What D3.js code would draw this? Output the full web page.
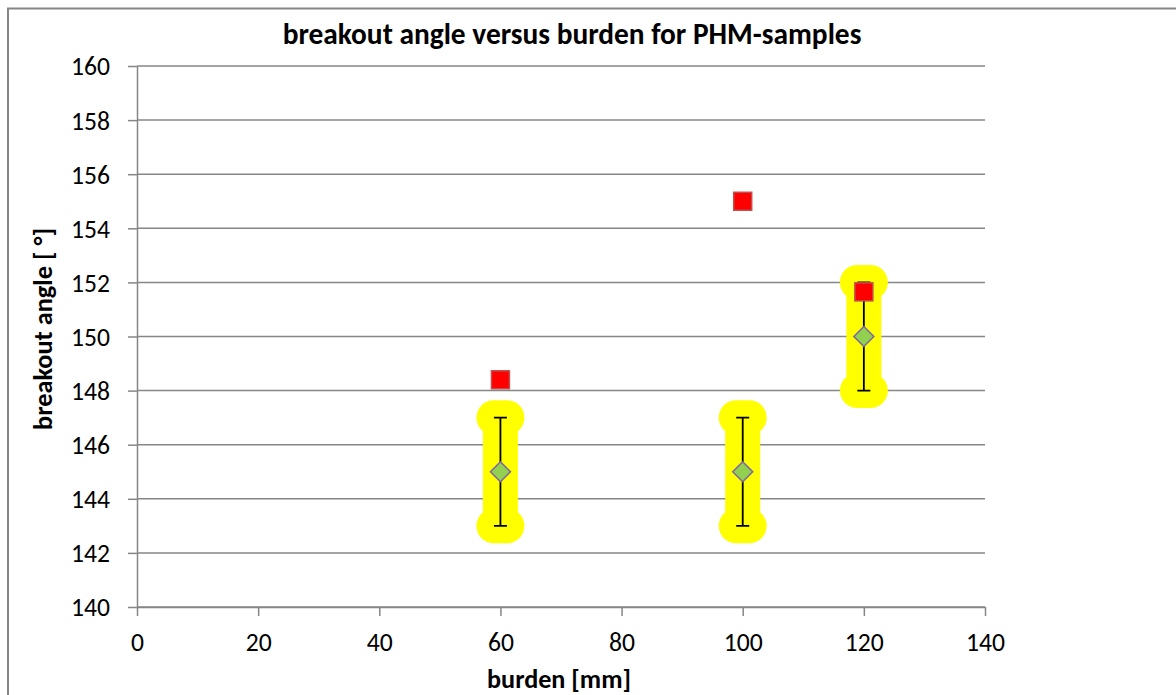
<!DOCTYPE html>
<html>
<head>
<meta charset="utf-8">
<script src="https://cdn.jsdelivr.net/npm/d3@7"></script>
<style>
  body { margin: 0; background: #fff; }
  text { font-family: Carlito, Lato, "Open Sans", sans-serif; fill: #000; }
</style>
</head>
<body>
<svg id="chart" width="1176" height="695"></svg>
<script>
// ---- data ----
const burden = [60, 100, 120];
const measuredAngle = [148.4, 155.0, 151.65];
const meanAngle = [145, 145, 150];
const errPlus = [2, 2, 2];
const errMinus = [2, 2, 2];
const xTicks = [0, 20, 40, 60, 80, 100, 120, 140];
const yTicks = [140, 142, 144, 146, 148, 150, 152, 154, 156, 158, 160];
const titleText = "breakout angle versus burden for PHM-samples";
const xLabel = "burden [mm]";
const yLabel = "breakout angle [ °]";

const svg = d3.select("#chart");
const m = { left: 137, right: 985, top: 66, bottom: 607 };

// fit a text element's font size to a target width
function fitWidth(sel, target) {
  const node = sel.node();
  const base = parseFloat(sel.style("font-size"));
  const w = node.getComputedTextLength();
  sel.style("font-size", (base * target / w) + "px");
}

// outer chart border
svg.append("rect").attr("x", 8).attr("y", 8.5).attr("width", 1200).attr("height", 720)
  .attr("fill", "none").attr("stroke", "#868686").attr("stroke-width", 2);

const x = d3.scaleLinear().domain([0, 140]).range([m.left, m.right]);
const y = d3.scaleLinear().domain([140, 160]).range([m.bottom, m.top]);

const grey = "#868686";

// measure tick font size
const probe = svg.append("text").style("font-size", "20px").text("160");
fitWidth(probe, 39);
const tickFont = probe.style("font-size");
probe.remove();

// gridlines
svg.append("g").selectAll("line").data(yTicks).join("line")
  .attr("x1", m.left).attr("x2", m.right)
  .attr("y1", d => y(d)).attr("y2", d => y(d))
  .attr("stroke", grey).attr("stroke-width", 1.5);

// y axis
const yAxis = svg.append("g").attr("transform", `translate(${m.left},0)`)
  .call(d3.axisLeft(y).tickValues(yTicks).tickSize(9).tickPadding(18).tickSizeOuter(0));
yAxis.attr("font-family", null).attr("font-size", null);
yAxis.select(".domain").attr("stroke", grey).attr("stroke-width", 1.5);
yAxis.selectAll(".tick line").attr("stroke", grey).attr("stroke-width", 1.5);
yAxis.selectAll(".tick text").style("font-size", tickFont).attr("dy", "0.35em");

// x axis
const xAxis = svg.append("g").attr("transform", `translate(0,${m.bottom})`)
  .call(d3.axisBottom(x).tickValues(xTicks).tickSize(9).tickPadding(14).tickSizeOuter(0));
xAxis.attr("font-family", null).attr("font-size", null);
xAxis.select(".domain").attr("stroke", grey).attr("stroke-width", 1.5);
xAxis.selectAll(".tick line").attr("stroke", grey).attr("stroke-width", 1.5);
xAxis.selectAll(".tick text").style("font-size", tickFont).attr("y", 44).attr("dy", 0);

// error bar data
const pts = burden.map((b, i) => ({ b, m: meanAngle[i], hi: meanAngle[i] + errPlus[i], lo: meanAngle[i] - errMinus[i] }));
const capHalf = 6.5;
const ebPath = d => {
  const cx = x(d.b), yt = y(d.hi), yb = y(d.lo);
  return `M${cx - capHalf},${yt}H${cx + capHalf}M${cx},${yt}V${yb}M${cx - capHalf},${yb}H${cx + capHalf}`;
};

// yellow glow
svg.append("g").selectAll("path").data(pts).join("path")
  .attr("d", ebPath).attr("fill", "none").attr("stroke", "#ffff00")
  .attr("stroke-width", 35).attr("stroke-linecap", "round").attr("stroke-linejoin", "round");

// error bars
svg.append("g").selectAll("path").data(pts).join("path")
  .attr("d", ebPath).attr("fill", "none").attr("stroke", "#000").attr("stroke-width", 1.8);

// red squares (measured)
const sq = 18;
svg.append("g").selectAll("rect").data(burden.map((b, i) => ({ b, v: measuredAngle[i] }))).join("rect")
  .attr("x", d => x(d.b) - sq / 2).attr("y", d => y(d.v) - sq / 2)
  .attr("width", sq).attr("height", sq)
  .attr("fill", "#ff0000").attr("stroke", "#c0504d").attr("stroke-width", 1.5);

// green diamonds (mean)
svg.append("g").selectAll("path").data(pts).join("path")
  .attr("d", d => {
    const cx = x(d.b), cy = y(d.m), r = 10;
    return `M${cx},${cy - r}L${cx + r},${cy}L${cx},${cy + r}L${cx - r},${cy}Z`;
  })
  .attr("fill", "#92d050").attr("stroke", "#8064a2").attr("stroke-width", 1.5);

// title
const t = svg.append("text").attr("x", 572).attr("y", 44).attr("text-anchor", "middle")
  .style("font-size", "22px").style("font-weight", "bold").text(titleText);
fitWidth(t, 579);

// axis labels
const xl = svg.append("text").attr("x", 559).attr("y", 688).attr("text-anchor", "middle")
  .style("font-size", "20px").style("font-weight", "bold").text(xLabel);
fitWidth(xl, 144);
const yl = svg.append("text").attr("transform", "translate(52,329) rotate(-90)").attr("text-anchor", "middle")
  .style("font-size", "20px").style("font-weight", "bold").text(yLabel);
fitWidth(yl, 202);
</script>
</body>
</html>
